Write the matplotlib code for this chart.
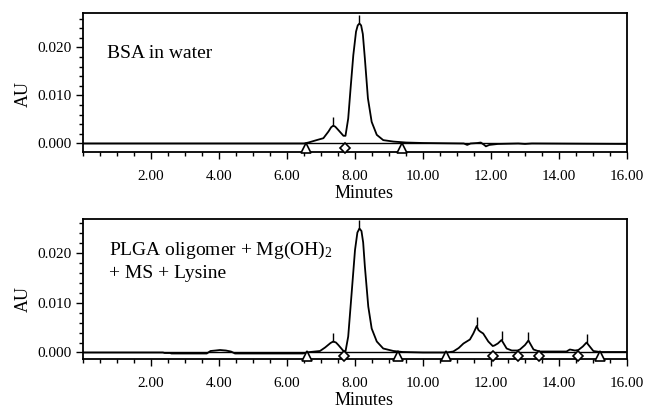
# HPLC chromatograms: BSA in water vs PLGA oligomer mixture
import matplotlib
matplotlib.use('Agg')
import matplotlib.pyplot as plt
from matplotlib.ticker import MultipleLocator, FormatStrFormatter

# Top trace (BSA in water)
bsa_t = [0.0, 6.5, 6.63, 6.87, 7.07, 7.22, 7.3, 7.36, 7.42, 7.51, 7.66, 7.72, 7.8,
         7.87, 7.95, 8.03, 8.08, 8.13, 8.18, 8.23, 8.29, 8.38, 8.49, 8.64, 8.83,
         9.13, 9.5, 10.0, 11.2, 11.3, 11.4, 11.6, 11.7, 11.8, 11.85, 11.95, 12.2,
         12.8, 13.0, 13.2, 16.0]
bsa_au = [0.0, 0.0, 0.0002, 0.0007, 0.0011, 0.0025, 0.0034, 0.0037, 0.0035, 0.0028,
          0.0016, 0.0016, 0.0052, 0.0115, 0.0184, 0.0233, 0.0246, 0.0250, 0.0246,
          0.0228, 0.0177, 0.0094, 0.0045, 0.0018, 0.0007, 0.0004, 0.0002, 0.0001,
          0.0, -0.0003, 0.0, 0.0001, 0.0002, -0.0003, -0.0006, -0.0003, -0.0001,
          0.0, -0.0001, 0.0, -0.0001]
bsa_apex = [7.36, 8.13]
bsa_apex_au = [0.0037, 0.0250]
bsa_start_end = [6.56, 9.37]
bsa_valley = [7.72]

# Bottom trace (PLGA oligomer + Mg(OH)2 + MS + Lysine)
plga_t = [0.0, 2.35, 2.4, 2.56, 2.6, 3.64, 3.75, 3.9, 4.03, 4.2, 4.35, 4.47, 6.47,
          6.58, 6.68, 6.97, 7.12, 7.28, 7.36, 7.44, 7.51, 7.66, 7.72, 7.8, 7.9, 8.0,
          8.07, 8.13, 8.19, 8.24, 8.29, 8.39, 8.49, 8.64, 8.83, 9.13, 9.4, 10.0,
          10.7, 10.89, 11.05, 11.19, 11.38, 11.48, 11.58, 11.63, 11.68, 11.77,
          11.92, 12.05, 12.1, 12.2, 12.31, 12.46, 12.61, 12.78, 12.85, 13.0, 13.1,
          13.25, 13.42, 14.22, 14.32, 14.47, 14.57, 14.7, 14.81, 15.01, 15.21, 16.0]
plga_au = [0.0, 0.0, -0.0001, -0.0001, -0.0002, -0.0002, 0.0003, 0.0004, 0.0005,
           0.0004, 0.0002, -0.0002, -0.0002, 0.0, 0.0001, 0.0003, 0.0010, 0.0019,
           0.0022, 0.0020, 0.0015, 0.0003, 0.0002, 0.0032, 0.0118, 0.0205, 0.0240,
           0.0248, 0.0243, 0.0220, 0.0172, 0.0092, 0.0048, 0.0022, 0.0008, 0.0003,
           0.0001, 0.0, 0.0, 0.0002, 0.0009, 0.0018, 0.0026, 0.0038, 0.0053, 0.0045,
           0.0042, 0.0038, 0.0022, 0.0013, 0.0014, 0.0018, 0.0025, 0.0008, 0.0004,
           0.0004, 0.0006, 0.0015, 0.0024, 0.0006, 0.0002, 0.0002, 0.0006, 0.0004,
           0.0005, 0.0012, 0.0020, 0.0003, 0.0001, 0.0001]
plga_apex = [7.36, 8.13, 11.58, 12.31, 13.1, 14.81]
plga_apex_au = [0.0022, 0.0248, 0.0053, 0.0025, 0.0024, 0.0020]
plga_start_end = [6.58, 9.25, 10.68, 15.21]
plga_valley = [7.69, 12.07, 12.78, 13.42, 14.57]

plt.rcParams['font.family'] = 'Liberation Serif'
plt.rcParams['mathtext.fontset'] = 'custom'
plt.rcParams['mathtext.rm'] = 'Liberation Serif'
plt.rcParams['mathtext.it'] = 'Liberation Serif:italic'

fig = plt.figure(figsize=(6.47, 4.08), dpi=100)
ax1 = fig.add_axes([0.1283, 0.6275, 0.8408, 0.3407])
ax2 = fig.add_axes([0.1283, 0.1201, 0.8408, 0.3431])


def draw(ax, t, au, apex, apex_au, se, valley, ylim, mark_y, ylab_y):
    ax.axhline(0, color='black', lw=1.0)
    ax.plot(t, au, color='black', lw=1.3)
    ax.vlines(apex, apex_au, [a + 0.0018 for a in apex_au], color='black', lw=1.0)
    ax.plot(se, [mark_y] * len(se), ls='none', marker='^', ms=7.5,
            mfc='white', mec='black', mew=1.2, clip_on=False, zorder=5)
    ax.plot(valley, [mark_y] * len(valley), ls='none', marker='D', ms=5.5,
            mfc='white', mec='black', mew=1.2, clip_on=False, zorder=5)
    ax.set_xlim(0, 16)
    ax.set_ylim(*ylim)
    ax.xaxis.set_minor_locator(MultipleLocator(0.5))
    ax.yaxis.set_major_locator(MultipleLocator(0.01))
    ax.yaxis.set_minor_locator(MultipleLocator(0.002))
    ax.xaxis.set_major_formatter(FormatStrFormatter('%.2f'))
    ax.yaxis.set_major_formatter(FormatStrFormatter('%.3f'))
    ax.set_xticks([2, 4, 6, 8, 10, 12, 14, 16])
    ax.tick_params(which='major', length=5, width=1.0, labelsize=11)
    ax.tick_params(axis='x', which='major', pad=8)
    ax.tick_params(axis='y', which='major', pad=3)
    ax.tick_params(which='minor', length=3, width=1.0)
    for s in ax.spines.values():
        s.set_linewidth(1.3)
    ax.set_xlabel('Minutes', fontsize=13)
    ax.set_ylabel('AU', fontsize=13)
    ax.xaxis.set_label_coords(0.517, -0.235)
    ax.yaxis.set_label_coords(-0.095, ylab_y)


draw(ax1, bsa_t, bsa_au, bsa_apex, bsa_apex_au, bsa_start_end, bsa_valley,
     (-0.00177, 0.02719), -0.0009, 0.42)
draw(ax2, plga_t, plga_au, plga_apex, plga_apex_au, plga_start_end, plga_valley,
     (-0.0013, 0.0267), -0.0008, 0.43)

ax1.text(0.045, 0.705, 'BSA in water', transform=ax1.transAxes, fontsize=14,
         va='center', ha='left')
ax2.text(0.048, 0.70, r'PLGA oligomer + Mg(OH)$_2$' + '\n+ MS + Lysine',
         transform=ax2.transAxes, fontsize=14, va='center', ha='left',
         linespacing=1.3)

fig.savefig('out.png', dpi=100)
